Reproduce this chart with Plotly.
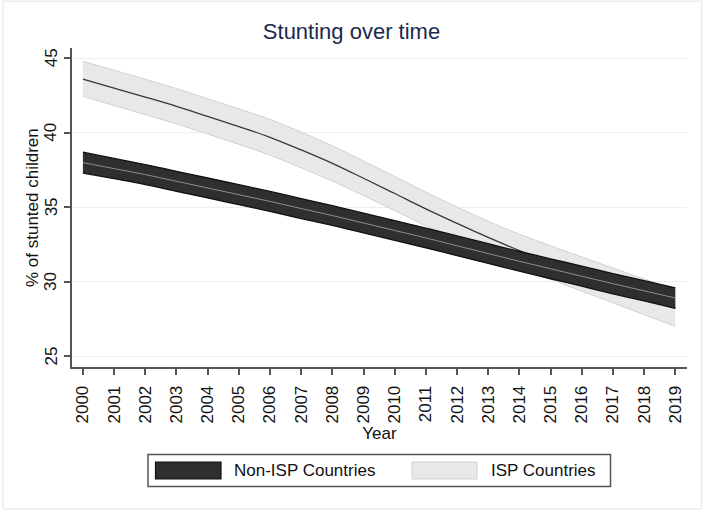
import plotly.graph_objects as go

# Fitted stunting prevalence (%) with confidence bands, by year
years = list(range(2000, 2020))

non_isp_mean = [38.00, 37.60, 37.20, 36.75, 36.30, 35.85, 35.40, 34.92, 34.45, 33.95,
                33.45, 32.95, 32.42, 31.90, 31.38, 30.88, 30.38, 29.88, 29.40, 28.92]
non_isp_upper = [38.70, 38.28, 37.87, 37.42, 36.97, 36.52, 36.07, 35.59, 35.11, 34.61,
                 34.11, 33.61, 33.08, 32.56, 32.04, 31.55, 31.05, 30.56, 30.08, 29.60]
non_isp_lower = [37.30, 36.92, 36.53, 36.08, 35.63, 35.18, 34.73, 34.25, 33.79, 33.29,
                 32.79, 32.29, 31.76, 31.24, 30.72, 30.21, 29.71, 29.20, 28.72, 28.22]

isp_mean = [43.60, 43.00, 42.40, 41.78, 41.10, 40.42, 39.70, 38.85, 37.95, 36.95,
            35.93, 34.90, 33.92, 32.98, 32.10, 31.30, 30.52, 29.77, 29.02, 28.28]
isp_upper = [44.80, 44.20, 43.60, 42.97, 42.29, 41.61, 40.90, 40.05, 39.13, 38.11,
             37.07, 36.02, 35.02, 34.07, 33.20, 32.42, 31.67, 30.93, 30.20, 29.48]
isp_lower = [42.45, 41.83, 41.22, 40.60, 39.92, 39.23, 38.50, 37.65, 36.77, 35.79,
             34.78, 33.76, 32.78, 31.85, 30.97, 30.17, 29.38, 28.60, 27.80, 27.02]

y_ticks = [25, 30, 35, 40, 45]
series_names = ["Non-ISP Countries", "ISP Countries"]

FONT = "Liberation Sans, Arial, Helvetica, sans-serif"
TEXT = "#111111"
DARK_FILL = "#2f2f2f"
LIGHT_FILL = "#e8e8e8"

fig = go.Figure()

# ISP band + fitted line
fig.add_trace(go.Scatter(x=years, y=isp_lower, mode="lines",
                         line=dict(color="#d2d2d2", width=1, shape="spline"),
                         showlegend=False, hoverinfo="skip"))
fig.add_trace(go.Scatter(x=years, y=isp_upper, mode="lines", fill="tonexty",
                         fillcolor=LIGHT_FILL,
                         line=dict(color="#d2d2d2", width=1, shape="spline"),
                         name=series_names[1], showlegend=False))
fig.add_trace(go.Scatter(x=years, y=isp_mean, mode="lines",
                         line=dict(color="#383838", width=1.3, shape="spline"),
                         showlegend=False))

# Non-ISP band + fitted line
fig.add_trace(go.Scatter(x=years, y=non_isp_lower, mode="lines",
                         line=dict(color="#111111", width=1.3, shape="spline"),
                         showlegend=False, hoverinfo="skip"))
fig.add_trace(go.Scatter(x=years, y=non_isp_upper, mode="lines", fill="tonexty",
                         fillcolor=DARK_FILL,
                         line=dict(color="#111111", width=1.3, shape="spline"),
                         name=series_names[0], showlegend=False))
fig.add_trace(go.Scatter(x=years, y=non_isp_mean, mode="lines",
                         line=dict(color="#8c8c8c", width=1, shape="spline"),
                         showlegend=False))

# Geometry of the plot area in pixels (used for the hand-drawn legend, labels and frame)
W, H = 703, 510
ML, MR, MT, MB = 72, 16, 48, 143
PW, PH = W - ML - MR, H - MT - MB


def xp(px):
    return (px - ML) / PW


def yp(py):
    return (H - MB - py) / PH


shapes = [
    # outer graph-region frame
    dict(type="rect", xref="paper", yref="paper",
         x0=xp(3), x1=xp(701.5), y0=yp(509), y1=yp(1.2),
         line=dict(color="#e6edf0", width=1.5), fillcolor="rgba(0,0,0,0)", layer="below"),
    # legend box
    dict(type="rect", xref="paper", yref="paper",
         x0=xp(148), x1=xp(610.5), y0=yp(486.5), y1=yp(454.5),
         line=dict(color="#555555", width=1.5), fillcolor="white"),
    # legend keys
    dict(type="rect", xref="paper", yref="paper",
         x0=xp(155.5), x1=xp(221), y0=yp(479), y1=yp(462),
         line=dict(color="#111111", width=1.2), fillcolor=DARK_FILL),
    dict(type="rect", xref="paper", yref="paper",
         x0=xp(412), x1=xp(477), y0=yp(479), y1=yp(462),
         line=dict(color="#d2d2d2", width=1), fillcolor=LIGHT_FILL),
]

annotations = [
    dict(text=series_names[0], xref="paper", yref="paper", x=xp(232), y=yp(470.5),
         xanchor="left", yanchor="middle", showarrow=False,
         font=dict(family=FONT, size=17, color=TEXT)),
    dict(text=series_names[1], xref="paper", yref="paper", x=xp(488.5), y=yp(470.5),
         xanchor="left", yanchor="middle", showarrow=False,
         font=dict(family=FONT, size=17, color=TEXT)),
    # vertical y-axis title
    dict(text="% of stunted children", xref="paper", yref="paper",
         x=xp(32.5), y=0.5, xanchor="center", yanchor="middle", textangle=-90,
         showarrow=False, font=dict(family=FONT, size=17, color=TEXT)),
]

# vertical y tick labels
for v in y_ticks:
    annotations.append(dict(text=str(v), xref="paper", yref="y", x=xp(51), y=v,
                            xanchor="center", yanchor="middle", textangle=-90,
                            showarrow=False, font=dict(family=FONT, size=17, color=TEXT)))

fig.update_layout(
    width=W, height=H,
    margin=dict(l=ML, r=MR, t=MT, b=MB, pad=0),
    paper_bgcolor="white", plot_bgcolor="white",
    font=dict(family=FONT, size=17, color=TEXT),
    title=dict(text="Stunting over time", x=0.5, xref="container", xanchor="center",
               y=1 - 31.5 / H, yref="container", yanchor="middle",
               font=dict(family=FONT, size=22, color="#1a2a4e")),
    shapes=shapes,
    annotations=annotations,
    showlegend=False,
)

fig.update_xaxes(
    range=[1999.65, 2019.375], tickmode="array", tickvals=years,
    ticktext=[str(y) for y in years], tickangle=-90,
    ticks="outside", ticklen=6, tickwidth=1.5, tickcolor="#555555",
    ticklabelstandoff=4,
    showline=True, linecolor="#555555", linewidth=1.8,
    showgrid=False, zeroline=False,
    tickfont=dict(family=FONT, size=17, color=TEXT),
    title=dict(text="Year", font=dict(family=FONT, size=17, color=TEXT), standoff=4),
    automargin=False,
)

fig.update_yaxes(
    range=[24.29, 45.69], tickmode="array", tickvals=y_ticks,
    showticklabels=False,
    ticks="outside", ticklen=6, tickwidth=1.5, tickcolor="#555555",
    showline=True, linecolor="#555555", linewidth=1.8,
    showgrid=True, gridcolor="#e8f0f1", gridwidth=1, zeroline=False,
    automargin=False,
)

fig.write_html("out.html")
